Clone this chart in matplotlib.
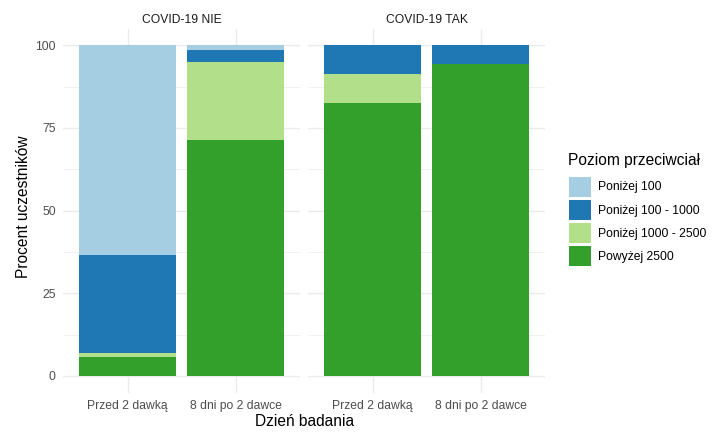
import numpy as np
import matplotlib.pyplot as plt
from matplotlib.patches import Patch

plt.rcParams["font.family"] = ["Liberation Sans", "DejaVu Sans"]

# dane (procent uczestników)
facets = ["COVID-19 NIE", "COVID-19 TAK"]
days = ["Przed 2 dawką", "8 dni po 2 dawce"]
levels = ["Poniżej 100", "Poniżej 100 - 1000", "Poniżej 1000 - 2500", "Powyżej 2500"]
colors = ["#A6CEE3", "#1F78B4", "#B2DF8A", "#33A02C"]

nie_powyzej_2500 = [5.8, 71.4]
nie_1000_2500 = [1.2, 23.5]
nie_100_1000 = [29.6, 3.7]
nie_ponizej_100 = [63.4, 1.4]

tak_powyzej_2500 = [82.6, 94.4]
tak_1000_2500 = [8.7, 0.0]
tak_100_1000 = [8.7, 5.6]
tak_ponizej_100 = [0.0, 0.0]

data = {
    "COVID-19 NIE": [nie_ponizej_100, nie_100_1000, nie_1000_2500, nie_powyzej_2500],
    "COVID-19 TAK": [tak_ponizej_100, tak_100_1000, tak_1000_2500, tak_powyzej_2500],
}

W, H = 720, 437
fig = plt.figure(figsize=(W / 100, H / 100), dpi=100)

grid_col = "#EBEBEB"
text_col = "#4D4D4D"
fs_tick = 8.7
fs_title = 11.2

panel_lefts = [62.7, 307.7]
panel_w = 237.6
panel_top, panel_bottom = 28.8, 392.5

for k, facet in enumerate(facets):
    ax = fig.add_axes([
        panel_lefts[k] / W,
        (H - panel_bottom) / H,
        panel_w / W,
        (panel_bottom - panel_top) / H,
    ])
    x = np.arange(len(days))
    bottom = np.zeros(len(days))
    # od dołu: Powyżej 2500 -> Poniżej 100
    for vals, col in zip(reversed(data[facet]), reversed(colors)):
        vals = np.array(vals)
        ax.bar(x, vals, width=0.9, bottom=bottom, color=col, linewidth=0, zorder=2)
        bottom += vals

    ax.set_xlim(-0.6, 1.6)
    ax.set_ylim(-5, 105)
    ax.set_yticks([0, 25, 50, 75, 100])
    ax.set_yticks([12.5, 37.5, 62.5, 87.5], minor=True)
    ax.set_xticks(x)
    ax.set_xticklabels(days, fontsize=fs_tick, color=text_col)
    ax.grid(True, which="major", color=grid_col, linewidth=1.0, zorder=0)
    ax.grid(True, which="minor", axis="y", color=grid_col, linewidth=0.5, zorder=0)
    ax.tick_params(which="both", length=0)
    ax.tick_params(axis="x", pad=5.5)
    ax.tick_params(axis="y", labelsize=fs_tick, labelcolor=text_col, pad=5)
    if k > 0:
        ax.set_yticklabels([])
    for s in ax.spines.values():
        s.set_visible(False)
    ax.set_title(facet, fontsize=fs_tick, color="#1A1A1A", pad=4.5)

fig.text(305 / W, 1 - 422 / H, "Dzień badania", ha="center", va="center", fontsize=fs_title)
fig.text(24 / W, 1 - 207 / H, "Procent uczestników", ha="center", va="center",
         rotation=90, fontsize=fs_title)

# legenda
fig.text(568 / W, 1 - 161 / H, "Poziom przeciwciał", ha="left", va="center", fontsize=fs_title)
handles = [Patch(facecolor=c, edgecolor="none") for c in colors]
fig.legend(
    handles, levels,
    loc="upper left",
    bbox_to_anchor=(569 / W, 1 - 176.5 / H),
    frameon=False,
    fontsize=fs_tick,
    borderpad=0,
    borderaxespad=0,
    handlelength=1.82,
    handleheight=2.17,
    handletextpad=0.6,
    labelspacing=0.27,
)

fig.savefig("out.png", dpi=100)
